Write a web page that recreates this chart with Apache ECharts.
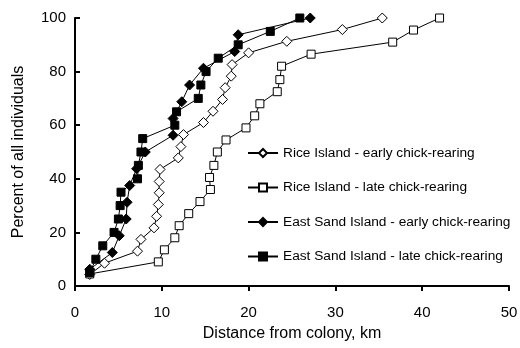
<!DOCTYPE html>
<html>
<head>
<meta charset="utf-8">
<script src="https://cdn.jsdelivr.net/npm/echarts@6/dist/echarts.min.js"></script>
<style>
  html, body { margin: 0; padding: 0; background: #fff; }
  #chart { width: 520px; height: 348px; }
</style>
</head>
<body>
<div id="chart"></div>
<script>
// x = distance from colony (km), y = cumulative percent of individuals
const riceEarlyX = [1.7, 3.4, 7.2, 7.6, 9.1, 9.4, 9.6, 9.7, 9.7, 9.8, 11.9, 12.2, 12.5, 14.8, 15.9, 17.0, 17.3, 18.0, 18.1, 20.0, 24.4, 30.8, 35.4];
const riceEarlyY = [4.3, 8.5, 13, 17.4, 21.7, 26, 30.4, 34.8, 39, 43.5, 47.8, 52, 56.5, 61, 65.2, 69.6, 74, 78.3, 82.6, 87, 91.3, 95.7, 100];

const riceLateX = [1.7, 9.6, 10.3, 11.5, 12.0, 13.1, 14.4, 15.6, 15.5, 16.0, 16.4, 17.4, 19.7, 20.7, 21.3, 23.3, 23.6, 23.8, 27.2, 36.6, 39.0, 42.0];
const riceLateY = [4.5, 9, 13.5, 18, 22.5, 27, 31.5, 36, 40.5, 45, 50, 54.5, 59, 63.5, 68, 72.5, 77, 82, 86.5, 91, 95.5, 100];

const eastEarlyX = [1.7, 4.3, 5.1, 5.9, 6.0, 6.3, 7.1, 8.1, 11.3, 11.3, 12.3, 13.2, 14.8, 18.4, 18.8, 27.1];
const eastEarlyY = [6.25, 12.5, 18.75, 25, 31.25, 37.5, 43.75, 50, 56.25, 62.5, 68.75, 75, 81.25, 87.5, 93.75, 100];

const eastLateX = [1.7, 2.4, 3.2, 4.5, 5.0, 5.2, 5.3, 7.2, 7.3, 7.6, 7.8, 11.5, 11.7, 14.2, 14.5, 15.1, 16.5, 18.8, 22.5, 25.9];
const eastLateY = [5, 10, 15, 20, 25, 30, 35, 40, 45, 50, 55, 60, 65, 70, 75, 80, 85, 90, 95, 100];

const seriesNames = [
  'Rice Island - early chick-rearing',
  'Rice Island - late chick-rearing',
  'East Sand Island - early chick-rearing',
  'East Sand Island - late chick-rearing'
];

const pairs = (xs, ys) => xs.map((x, i) => [x, ys[i]]);

const font = 'Liberation Sans, Arial, sans-serif';

const makeSeries = (name, data, symbol, size, filled) => ({
  name: name,
  type: 'line',
  data: data,
  symbol: symbol,
  symbolSize: size,
  showSymbol: true,
  lineStyle: { color: '#000', width: 1 },
  itemStyle: {
    color: filled ? '#000' : '#fff',
    borderColor: '#000',
    borderWidth: 1
  },
  emphasis: { disabled: true },
  animation: false
});

const chart = echarts.init(document.getElementById('chart'));
chart.setOption({
  backgroundColor: '#fff',
  textStyle: { fontFamily: font },
  grid: { left: 75, right: 11, top: 18, bottom: 62, containLabel: false, outerBoundsMode: 'none' },
  legend: {
    orient: 'vertical',
    left: 247,
    top: 146,
    padding: 0,
    itemGap: 20.5,
    itemWidth: 30,
    itemHeight: 10,
    textStyle: { fontFamily: font, fontSize: 13.7, color: '#000' },
    data: seriesNames
  },
  xAxis: {
    type: 'value',
    min: 0,
    max: 50,
    interval: 10,
    name: 'Distance from colony, km',
    nameLocation: 'middle',
    nameGap: 40,
    nameTextStyle: { fontFamily: font, fontSize: 16, color: '#000' },
    axisLine: { lineStyle: { color: '#000', width: 2 } },
    axisTick: { show: true, length: 5, lineStyle: { color: '#000', width: 2 } },
    axisLabel: { fontFamily: font, fontSize: 15, color: '#000', margin: 19 },
    splitLine: { show: false }
  },
  yAxis: {
    type: 'value',
    min: 0,
    max: 100,
    interval: 20,
    name: 'Percent of all individuals',
    nameLocation: 'middle',
    nameGap: 48,
    nameTextStyle: { fontFamily: font, fontSize: 16, color: '#000' },
    axisLine: { show: true, lineStyle: { color: '#000', width: 2 } },
    axisTick: { show: true, inside: true, length: 5, lineStyle: { color: '#000', width: 2 } },
    axisLabel: { fontFamily: font, fontSize: 15, color: '#000', margin: 9 },
    splitLine: { show: false }
  },
  series: [
    makeSeries(seriesNames[0], pairs(riceEarlyX, riceEarlyY), 'diamond', 10, false),
    makeSeries(seriesNames[1], pairs(riceLateX, riceLateY), 'rect', 8, false),
    makeSeries(seriesNames[2], pairs(eastEarlyX, eastEarlyY), 'diamond', 10, true),
    makeSeries(seriesNames[3], pairs(eastLateX, eastLateY), 'rect', 8, true)
  ]
});
</script>
</body>
</html>
